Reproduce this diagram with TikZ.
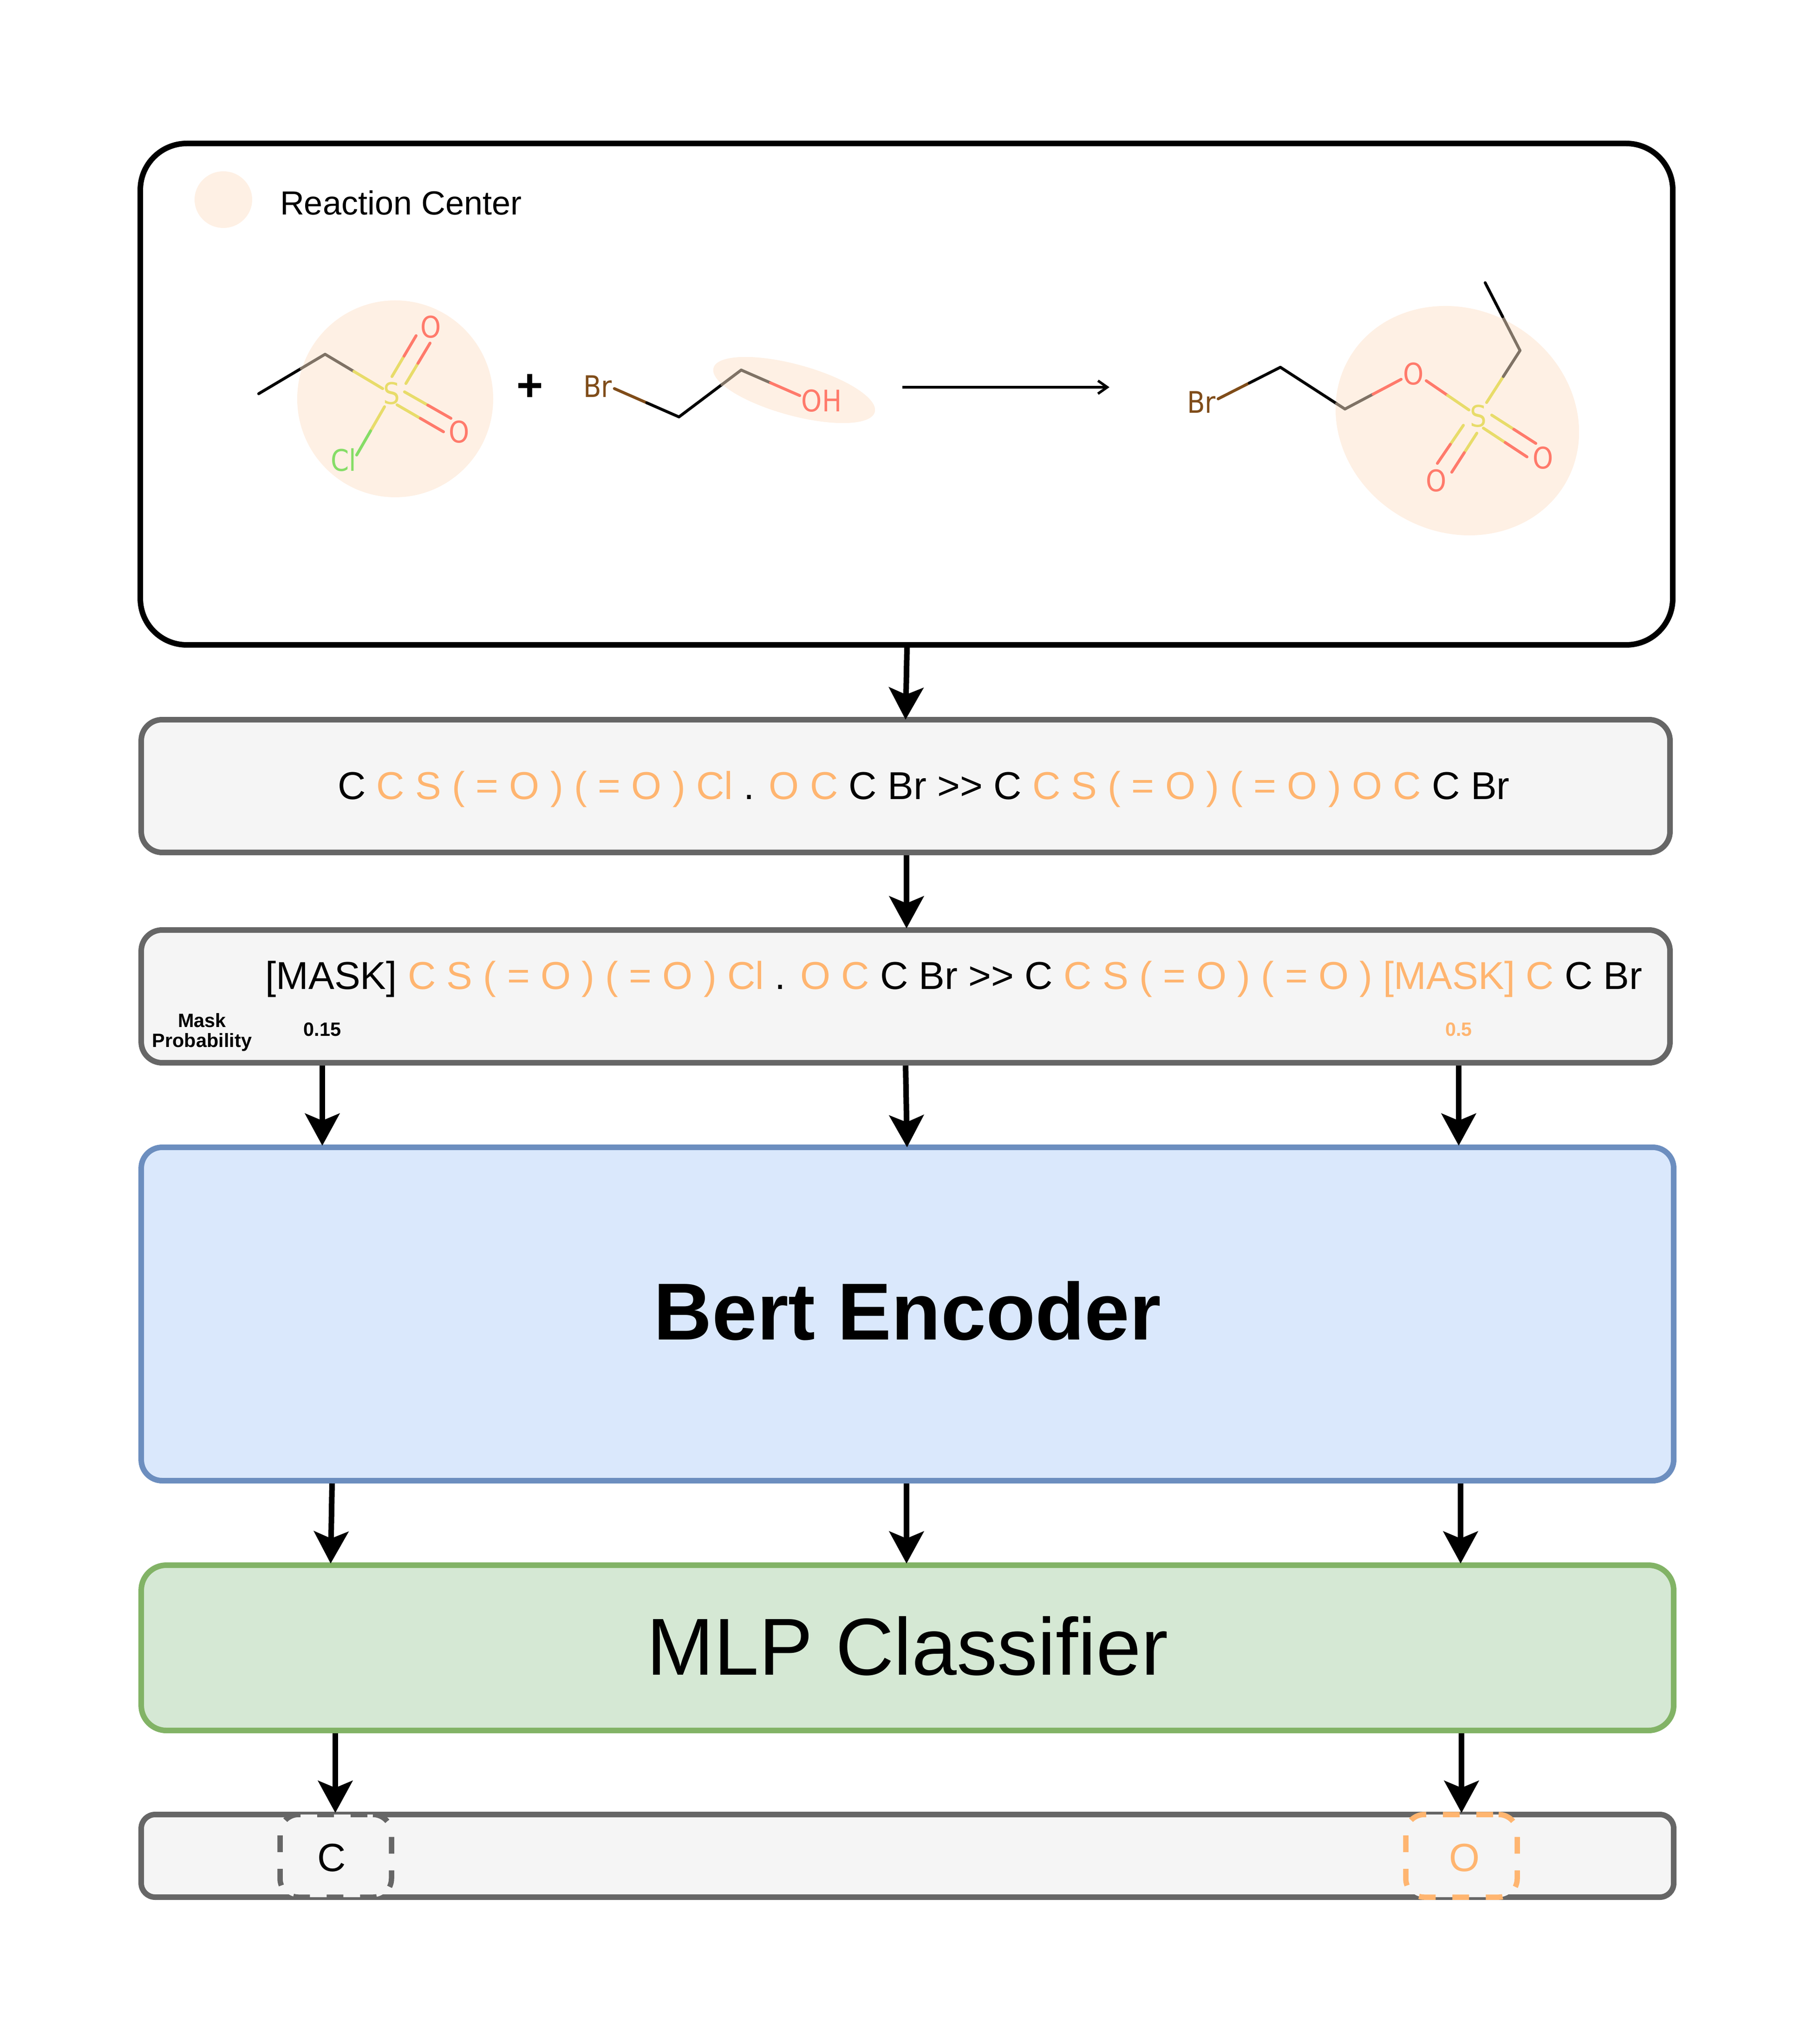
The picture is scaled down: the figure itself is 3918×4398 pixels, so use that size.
\documentclass[tikz,border=0pt]{standalone}
\usepackage{fontspec}
\setmainfont{Liberation Sans}
\newfontfamily\rdkitfont[FakeStretch=0.88]{DejaVu Sans}
\usetikzlibrary{arrows.meta,calc,positioning}

\definecolor{rcorange}{HTML}{FFB570}
\definecolor{rcfill}{HTML}{FEF0E4}
\definecolor{boxfill}{HTML}{F5F5F5}
\definecolor{boxgray}{HTML}{666666}
\definecolor{bertfill}{HTML}{DAE8FC}
\definecolor{bertline}{HTML}{6C8EBF}
\definecolor{mlpfill}{HTML}{D5E8D4}
\definecolor{mlpline}{HTML}{82B366}
\definecolor{atomO}{HTML}{FF7A6B}
\definecolor{atomS}{HTML}{E8DC6A}
\definecolor{atomCl}{HTML}{85DD66}
\definecolor{atomBr}{HTML}{7F4C19}
\definecolor{atomC}{HTML}{7F7265}

\newcommand{\rc}[1]{\textcolor{rcorange}{#1}}
% one bond, two colours, changing half way unless told otherwise
\newcommand{\bond}[5][.5]{\draw[bondline,#2] #4 -- ($#4!#1!#5$); \draw[bondline,#3] ($#4!#1!#5$) -- #5;}

\tikzset{
	panel/.style={draw=boxgray,fill=boxfill,line width=1.2pt,rounded corners=4.5pt,inner sep=0pt,outer sep=0.6pt},
	flow/.style={-{Stealth[length=6.9pt,width=7.4pt,inset=1.5pt]},line width=1.2pt,shorten >=-0.25pt},
	deepflow/.style={flow,shorten >=-0.6pt},
	bondline/.style={line width=0.62pt,line cap=round},
	atom/.style={font=\rdkitfont\fontsize{6.4}{7}\selectfont,inner sep=0pt},
	token/.style={font=\fontsize{8.37}{10}\selectfont,anchor=base,inner sep=0pt},
	tiny/.style={font=\bfseries\fontsize{4.15}{4.3}\selectfont,inner sep=0pt,align=center},
	slot/.style={draw,dash pattern=on 3.6pt off 3.6pt,dash phase=6pt,fill=boxfill,line width=1.15pt,rounded corners=4pt,inner sep=0pt,minimum width=24pt,minimum height=17.8pt},
	slottext/.style={font=\fontsize{8.5}{10}\selectfont,inner sep=0pt}
}

\begin{document}
\begin{tikzpicture}[x=0.1pt,y=-0.1pt]
\path[use as bounding box] (0,0) rectangle (3918,4398);

% reaction panel
\node[draw=black,line width=1.2pt,rounded corners=10pt,inner sep=0pt,outer sep=0.6pt,minimum width=330pt,minimum height=108pt] (reaction) at (1952,849) {};
\fill[rcfill] (481,430) ellipse [x radius=62,y radius=61];
\node[font=\fontsize{7.2}{9}\selectfont,anchor=base west,inner sep=0pt] (legend) at (601,463) {Reaction Center};

\fill[rcfill] (851,859) ellipse [x radius=211,y radius=212];
\fill[rcfill,rotate around={-15.3:(1710,840)}] (1710,840) ellipse [x radius=180,y radius=55];
\fill[rcfill,rotate around={-29.6:(3138,906)}] (3138,906) ellipse [x radius=269,y radius=239.5];

% first educt
\bond[.64]{black}{atomC}{(557,848)}{(700,763)}
\bond{atomC}{atomS}{(700,763)}{(824,837)}
\bond{atomS}{atomO}{(844,811)}{(896,723)}
\bond{atomS}{atomO}{(874,826)}{(926,739)}
\bond{atomS}{atomO}{(871,844)}{(971,901)}
\bond{atomS}{atomO}{(855,872)}{(955,930)}
\bond{atomS}{atomCl}{(828,876)}{(768,980)}
\node[atom,text=atomS] (sa) at (843,847) {S};
\node[atom,text=atomO] (oa) at (928,704) {O};
\node[atom,text=atomO] (ob) at (989,930) {O};
\node[atom,text=atomCl] (cla) at (740,991) {Cl};
\node[font=\bfseries\fontsize{9.8}{10}\selectfont,inner sep=0pt] (plus) at (1141,835) {+};

% second educt
\bond{atomBr}{black}{(1323,837)}{(1462,898)}
\bond[.69]{black}{atomC}{(1462,898)}{(1596,797)}
\bond{atomC}{atomO}{(1596,797)}{(1722,852)}
\node[atom,text=atomBr] (bra) at (1287,832) {Br};
\node[atom,text=atomO] (oh) at (1769,863) {OH};

% reaction arrow
\coordinate (arrowstart) at (1943,834);
\coordinate (arrowend) at (2389,834);
\draw[-{Straight Barb[length=2pt,width=2.8pt]},line width=0.55pt] (arrowstart) -- (arrowend);

% product
\bond{atomBr}{black}{(2623,859)}{(2757,791)}
\bond[.87]{black}{atomC}{(2757,791)}{(2896,881)}
\bond{atomC}{atomO}{(2896,881)}{(3017,817)}
\bond{atomO}{atomS}{(3071,820)}{(3163,883)}
\bond{atomS}{atomC}{(3201,867)}{(3273,755)}
\bond{atomC}{black}{(3273,755)}{(3198,609)}
\bond{atomS}{atomO}{(3212,894)}{(3307,955)}
\bond{atomS}{atomO}{(3194,922)}{(3288,984)}
\bond{atomS}{atomO}{(3151,916)}{(3095,998)}
\bond{atomS}{atomO}{(3180,933)}{(3126,1017)}
\node[atom,text=atomBr] (brb) at (2587,866) {Br};
\node[atom,text=atomO] (oc) at (3044,805) {O};
\node[atom,text=atomS] (sb) at (3183,896) {S};
\node[atom,text=atomO] (od) at (3323,986) {O};
\node[atom,text=atomO] (oe) at (3093,1035) {O};

% token rows
\node[panel,minimum width=329.2pt,minimum height=28.6pt] (smiles) at (1950,1693) {};
\node[token] (smilestext) at (1989,1722) {C \rc{C S ( = O ) ( = O ) Cl} . \rc{O C} C Br >{}> C \rc{C S ( = O ) ( = O ) O C} C Br};

\node[panel,minimum width=329.2pt,minimum height=28.6pt] (masked) at (1950,2146) {};
\node[token] (maskedtext) at (2054,2130) {[MASK] \rc{C S ( = O ) ( = O ) Cl} . \rc{O C} C Br >{}> C \rc{C S ( = O ) ( = O ) [MASK] C} C Br};
\node[tiny] (masklabel) at (435,2223) {Mask\hspace{1.1pt}\\Probability};
\node[tiny] (probleft) at (694,2217) {0.15};
\node[tiny,text=rcorange] (probright) at (3141,2217) {0.5};

% encoder and classifier
\node[panel,draw=bertline,fill=bertfill,minimum width=330pt,minimum height=71.8pt,text depth=1.6pt,font=\bfseries\fontsize{17.4}{20}\selectfont] (bert) at (1954,2830) {Bert Encoder};
\node[panel,draw=mlpline,fill=mlpfill,rounded corners=5.4pt,minimum width=330pt,minimum height=35.6pt,text depth=1pt,font=\fontsize{17.42}{20}\selectfont] (mlp) at (1954,3549) {MLP Classifier};

% output row
\node[panel,rounded corners=3pt,minimum width=330pt,minimum height=17.8pt] (output) at (1954,3997) {};
\node[slot,draw=boxgray] (outc) at (723,3997) {};
\node[slot,draw=rcorange] (outo) at (3147,3997) {};
\node[slottext] (outctext) at (714,4001) {C};
\node[slottext,text=rcorange] (outotext) at (3153,4001) {O};

% columns for the arrows
\coordinate (rowa) at (1953,0);
\coordinate (rowb) at (1950,0);
\coordinate (rowc) at (1952,0);
\coordinate (colleft) at (694,0);
\coordinate (colright) at (3141,0);
\coordinate (colbla) at (715,0);
\coordinate (colblb) at (712,0);
\coordinate (colbr) at (3145,0);
\coordinate (colol) at (722,0);
\coordinate (color) at (3147,0);

\draw[deepflow] (reaction.south -| rowa) -- (smiles.north -| rowb);
\draw[flow] (smiles.south -| rowc) -- (masked.north -| rowc);
\draw[flow] (masked.south -| colleft) -- (bert.north -| colleft);
\draw[deepflow] (masked.south -| rowb) -- (bert.north -| rowa);
\draw[flow] (masked.south -| colright) -- (bert.north -| colright);
\draw[flow] (bert.south -| colbla) -- (mlp.north -| colblb);
\draw[flow] (bert.south -| rowc) -- (mlp.north -| rowc);
\draw[flow] (bert.south -| colbr) -- (mlp.north -| colbr);
\draw[flow] (mlp.south -| colol) -- (output.north -| colol);
\draw[flow] (mlp.south -| color) -- (output.north -| color);
\end{tikzpicture}
\end{document}
